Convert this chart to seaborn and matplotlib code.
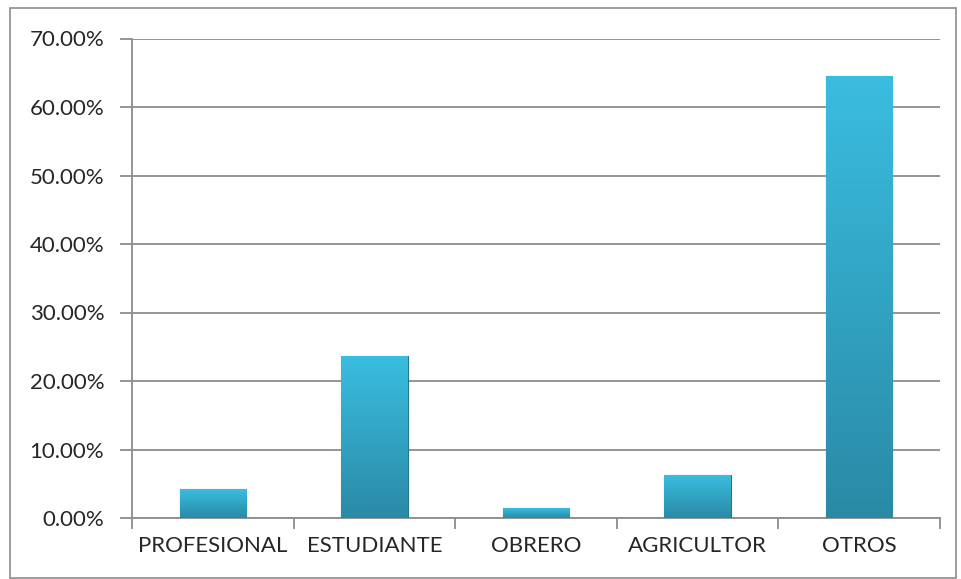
import matplotlib
matplotlib.use("Agg")
import matplotlib.pyplot as plt
import seaborn as sns
import pandas as pd
import numpy as np
from matplotlib.ticker import FuncFormatter, FixedLocator
from matplotlib.patches import Rectangle
from matplotlib.colors import LinearSegmentedColormap

categories = ["PROFESIONAL", "ESTUDIANTE", "OBRERO", "AGRICULTOR", "OTROS"]
values = [4.17, 23.61, 1.39, 6.25, 64.58]

df = pd.DataFrame({"cat": categories, "val": values})

sns.set_style("white")
plt.rcParams["font.family"] = ["Lato", "DejaVu Sans"]

fig = plt.figure(figsize=(9.61, 5.79), dpi=100)
ax = fig.add_axes([132/961, 1-518/579, (940-132)/961, (518-38.5)/579])

sns.barplot(data=df, x="cat", y="val", color="#34B2D2", width=0.41,
            edgecolor="#1E7890", linewidth=0.8, saturation=1, ax=ax, zorder=3)

# vertical gradient on bars
grad = np.linspace(0, 1, 256).reshape(-1, 1)
cmap = LinearSegmentedColormap.from_list("g", ["#2A8AA6", "#3ABDE0"])
for p in ax.patches:
    x0, y0 = p.get_x(), p.get_y()
    w, h = p.get_width(), p.get_height()
    im = ax.imshow(grad, extent=[x0, x0 + w, y0, y0 + h], origin="lower",
                   cmap=cmap, aspect="auto", zorder=3.5)
    im.set_clip_path(p)

ax.set_xlim(-0.5, 4.5)
ax.set_ylim(0, 70)
ax.yaxis.set_major_locator(FixedLocator(np.arange(0, 71, 10)))
ax.yaxis.set_major_formatter(FuncFormatter(lambda v, _: f"{v:.2f}%"))
ax.grid(axis="y", color="#8C8C8C", linewidth=1.3, zorder=0)
ax.set_axisbelow(True)
ax.set_xlabel("")
ax.set_ylabel("")

for s in ["top", "right"]:
    ax.spines[s].set_visible(False)
for s in ["left", "bottom"]:
    ax.spines[s].set_color("#8C8C8C")
    ax.spines[s].set_linewidth(1.3)

ax.tick_params(axis="y", which="major", length=9, width=1.3, color="#8C8C8C",
               labelsize=16, pad=11, left=True)
ax.tick_params(axis="x", which="major", length=0, labelsize=16, pad=13)
ax.set_xticks(np.arange(-0.5, 4.6, 1), minor=True)
ax.tick_params(axis="x", which="minor", length=8, width=1.3, color="#8C8C8C",
               bottom=True)

# outer border
fig.patches.append(Rectangle((10/961, 0.002), 946/961, 1-8/579-0.002,
                             transform=fig.transFigure, fill=False,
                             edgecolor="#8C8C8C", linewidth=1.2))

fig.savefig("out.png", dpi=100)
